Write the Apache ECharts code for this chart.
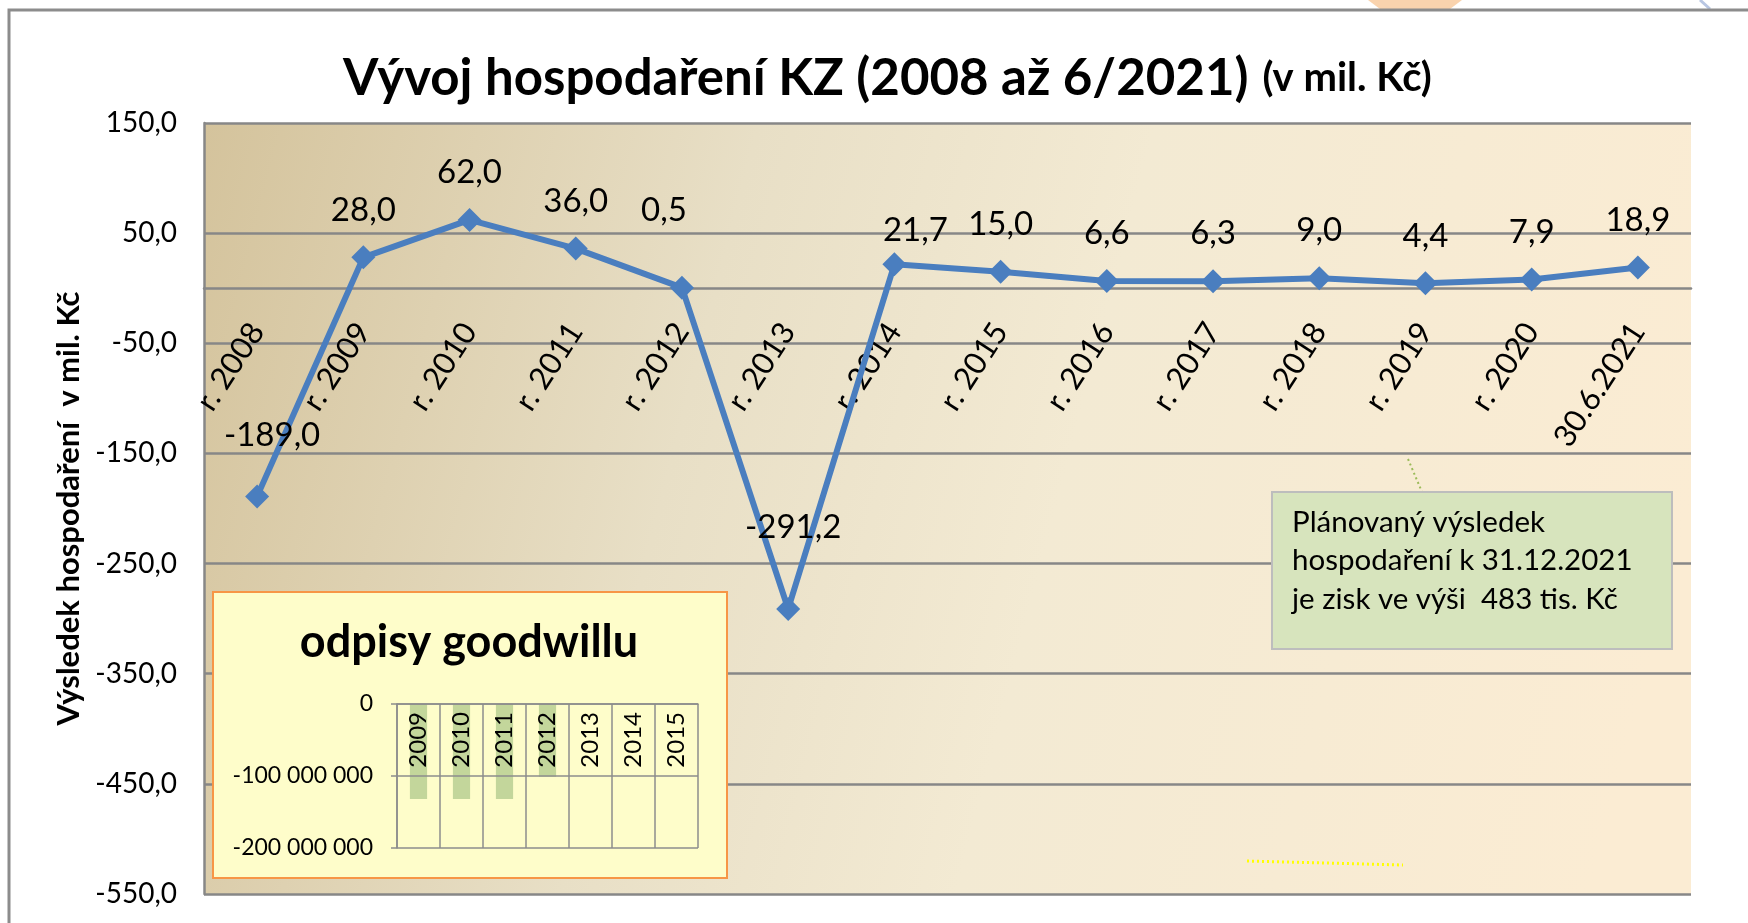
<!DOCTYPE html>
<html>
<head>
<meta charset="utf-8">
<title>Vývoj hospodaření KZ</title>
<script src="https://cdn.jsdelivr.net/npm/echarts@6/dist/echarts.min.js"></script>
<style>
  html, body { margin: 0; padding: 0; background: #fff; }
  #chart { width: 1748px; height: 923px; }
</style>
</head>
<body>
<div id="chart"></div>
<script>
"use strict";
// data
var categories = ["r. 2008", "r. 2009", "r. 2010", "r. 2011", "r. 2012", "r. 2013", "r. 2014",
  "r. 2015", "r. 2016", "r. 2017", "r. 2018", "r. 2019", "r. 2020", "30.6.2021"];
var result = [-189.0, 28.0, 62.0, 36.0, 0.5, -291.2, 21.7, 15.0, 6.6, 6.3, 9.0, 4.4, 7.9, 18.9];
var yMin = -550, yMax = 150, yStep = 100;

var goodwillYears = ["2009", "2010", "2011", "2012", "2013", "2014", "2015"];
var goodwillWriteOff = [-132000000, -132000000, -132000000, -101000000, 0, 0, 0];
var gwMin = -200000000, gwMax = 0, gwStep = 100000000;

var titleMain = "Vývoj hospodaření KZ (2008 až 6/2021)";
var titleUnit = "(v mil. Kč)";
var yName = "Výsledek hospodaření  v mil. Kč";
var insetTitle = "odpisy goodwillu";
var noteLines = ["Plánovaný výsledek", "hospodaření k 31.12.2021", "je zisk ve výši  483 tis. Kč"];

// styling
var FONT = "Lato";
var GRID_GRAY = "#878787";
var MINI_GRAY = "#8c8c8c";
var BLUE = "#4A7EBF";
// hand-placed data labels in the original (dx, dy)
var labelShift = { 0: [15, -14], 4: [-18, -30], 5: [5, -34], 6: [21, 14] };

// main plot box and mini chart box
var MAIN = { left: 204, top: 123, width: 1487, height: 771 };
var ZERO_Y = 288;   // where the category labels hang from (value 0)
var MINI = { left: 397, top: 704, width: 301, height: 144 };

function czNum(v) {
  return v.toFixed(1).replace(".", ",");
}
function spaced(v) {
  var s = String(Math.abs(v)).replace(/\B(?=(\d{3})+(?!\d))/g, " ");
  return (v < 0 ? "-" : "") + s;
}

var lineData = result.map(function (v, i) {
  var item = { value: v };
  if (labelShift[i]) item.label = { offset: labelShift[i] };
  return item;
});

var chart = echarts.init(document.getElementById("chart"), null, { renderer: "canvas" });

var option = {
  backgroundColor: "#ffffff",
  animation: false,
  title: {
    text: "{a|" + titleMain + "}{b|" + titleUnit + "}",
    left: 338,
    top: 48,
    textStyle: {
      rich: {
        a: { fontFamily: FONT, fontWeight: "bold", fontSize: 51, color: "#000" },
        b: { fontFamily: FONT, fontWeight: "bold", fontSize: 40, color: "#000", padding: [0, 0, 0, 14] }
      }
    }
  },
  grid: [
    {
      left: MAIN.left, top: MAIN.top, width: MAIN.width, height: MAIN.height,
      outerBoundsMode: "none",
      show: true, borderWidth: 0,
      backgroundColor: new echarts.graphic.LinearGradient(0, 0, 1, 0.5, [
        { offset: 0, color: "#D4C39C" },
        { offset: 0.35, color: "#E8DFC6" },
        { offset: 0.6, color: "#F3EAD3" },
        { offset: 1, color: "#FBECD3" }
      ])
    },
    { left: MINI.left, top: MINI.top, width: MINI.width, height: MINI.height, outerBoundsMode: "none" },
    // label carriers: the category labels sit under the zero line
    { left: MAIN.left, top: MAIN.top, width: MAIN.width, height: ZERO_Y - MAIN.top, outerBoundsMode: "none" },
    { left: MINI.left, top: MINI.top - 60, width: MINI.width, height: 60, outerBoundsMode: "none" }
  ],
  xAxis: [
    {
      gridIndex: 0, type: "category", data: categories, boundaryGap: true, z: 1,
      axisLine: { onZero: true, lineStyle: { color: GRID_GRAY, width: 2.5 } },
      axisTick: { show: false },
      axisLabel: { show: false },
      splitLine: { show: false }
    },
    {
      gridIndex: 1, type: "category", data: goodwillYears, boundaryGap: true, z: 4,
      axisLine: { onZero: true, lineStyle: { color: MINI_GRAY, width: 1.5 } },
      axisTick: { show: false },
      axisLabel: { show: false },
      splitLine: { show: true, lineStyle: { color: MINI_GRAY, width: 1.5 } }
    },
    {
      gridIndex: 2, type: "category", data: categories, boundaryGap: true, z: 1,
      axisLine: { show: false }, axisTick: { show: false }, splitLine: { show: false },
      axisLabel: { interval: 0, rotate: 57, margin: 38, fontFamily: FONT, fontSize: 31, color: "#000" }
    },
    {
      gridIndex: 3, type: "category", data: goodwillYears, boundaryGap: true, z: 6,
      axisLine: { show: false }, axisTick: { show: false }, splitLine: { show: false },
      axisLabel: { interval: 0, rotate: 90, margin: 8, fontFamily: FONT, fontSize: 24, color: "#000" }
    }
  ],
  yAxis: [
    {
      gridIndex: 0, type: "value", min: yMin, max: yMax, interval: yStep, z: 1,
      name: yName, nameLocation: "middle", nameRotate: 90, nameGap: 119,
      nameTextStyle: { fontFamily: FONT, fontWeight: "bold", fontSize: 31, color: "#000" },
      axisLine: { show: true, lineStyle: { color: GRID_GRAY, width: 2.5 } },
      axisTick: { show: false },
      axisLabel: { margin: 27, fontFamily: FONT, fontSize: 28, color: "#000", formatter: czNum },
      splitLine: { lineStyle: { color: GRID_GRAY, width: 2.5 } }
    },
    {
      gridIndex: 1, type: "value", min: gwMin, max: gwMax, interval: gwStep, z: 4,
      axisLine: { show: true, lineStyle: { color: MINI_GRAY, width: 1.5 } },
      axisTick: { show: true, length: 6, lineStyle: { color: MINI_GRAY, width: 1.5 } },
      axisLabel: { margin: 24, fontFamily: FONT, fontSize: 23, color: "#000", formatter: spaced },
      splitLine: { lineStyle: { color: MINI_GRAY, width: 1.5 } }
    },
    { gridIndex: 2, type: "value", min: 0, max: 1, show: false },
    { gridIndex: 3, type: "value", min: 0, max: 1, show: false }
  ],
  series: [
    {
      type: "line", xAxisIndex: 0, yAxisIndex: 0, data: lineData, z: 3,
      symbol: "diamond", symbolSize: 24,
      lineStyle: { color: BLUE, width: 6 },
      itemStyle: { color: BLUE },
      label: {
        show: true, position: "top", distance: 19,
        fontFamily: FONT, fontSize: 33, color: "#000",
        formatter: function (p) { return czNum(p.value); }
      }
    },
    {
      type: "bar", xAxisIndex: 1, yAxisIndex: 1, data: goodwillWriteOff, z: 3,
      barWidth: "40%",
      itemStyle: { color: "#C3D69B" }
    }
  ],
  graphic: [
    // outer frame of the chart object
    { type: "polygon", z: 0, shape: { points: [[1368, 0], [1462, 0], [1450, 9], [1380, 9]] },
      style: { fill: "#F9D3AE" } },
    { type: "line", z: 0, shape: { x1: 1700, y1: 0, x2: 1710, y2: 9 },
      style: { stroke: "#B8C6E2", lineWidth: 3 } },
    { type: "polyline", z: 1, shape: { points: [[9, 923], [9, 10], [1748, 10]] },
      style: { stroke: "#8C8C8C", lineWidth: 3, fill: null } },
    // inset box
    { type: "rect", z: 2, shape: { x: 213, y: 592, width: 514, height: 286 },
      style: { fill: "#FEFDCA", stroke: "#F79646", lineWidth: 2 } },
    { type: "text", z: 2, x: 469, y: 642,
      style: { text: insetTitle, fontFamily: FONT, fontWeight: "bold", fontSize: 45,
        fill: "#000", align: "center", verticalAlign: "middle" } },
    // note box
    { type: "line", z: 2, shape: { x1: 1408, y1: 459, x2: 1422, y2: 492 },
      style: { stroke: "#9BBB59", lineWidth: 2, lineDash: [2, 3] } },
    { type: "rect", z: 2, shape: { x: 1272, y: 492, width: 400, height: 157 },
      style: { fill: "#D7E4BD", stroke: "#BDBDBD", lineWidth: 2 } },
    { type: "text", z: 2, x: 1292, y: 503,
      style: { text: noteLines.join("\n"), fontFamily: FONT, fontSize: 29.5, lineHeight: 38.5,
        fill: "#000", align: "left", verticalAlign: "top" } },
    { type: "line", z: 2, shape: { x1: 1247, y1: 861, x2: 1403, y2: 865 },
      style: { stroke: "#FFFF00", lineWidth: 3, lineDash: [2, 3] } }
  ]
};

chart.setOption(option);
</script>
</body>
</html>
